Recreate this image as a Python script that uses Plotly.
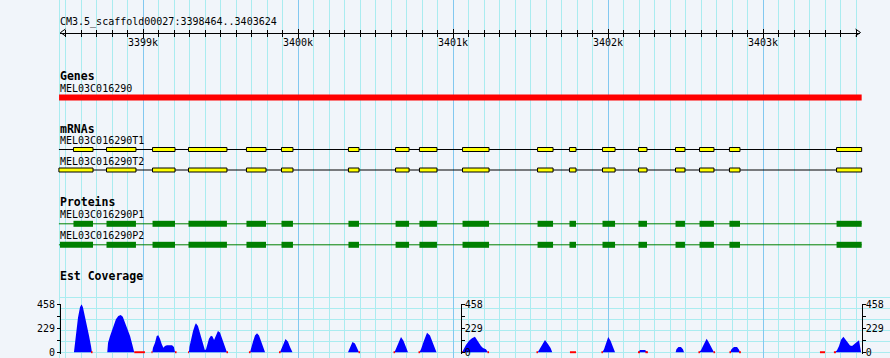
import plotly.graph_objects as go

# ---------------- data ----------------
VIEW_START, VIEW_END = 3398464, 3403624
REGION_LABEL = "CM3.5_scaffold00027:3398464..3403624"

RULER_MAJOR = [3399000, 3400000, 3401000, 3402000, 3403000]
RULER_MAJOR_TEXT = ["3399k", "3400k", "3401k", "3402k", "3403k"]
RULER_MINOR = list(range(3398500, 3403601, 100))

GENE_NAME = "MEL03C016290"
GENE_SPAN = (3398458, 3403636)

TRANSCRIPT_NAMES = ["MEL03C016290T1", "MEL03C016290T2"]
PROTEIN_NAMES = ["MEL03C016290P1", "MEL03C016290P2"]

EXON_STARTS = [3398551, 3398764, 3399061, 3399293, 3399667, 3399893, 3400325, 3400629, 3400783,
               3401061, 3401545, 3401751, 3401964, 3402196, 3402435, 3402590, 3402783, 3403474]
EXON_ENDS = [3398677, 3398954, 3399206, 3399541, 3399793, 3399967, 3400393, 3400716, 3400896,
             3401232, 3401645, 3401793, 3402045, 3402251, 3402496, 3402683, 3402851, 3403636]
T2_FIRST_EXON_START = 3398457
P2_FIRST_CDS_START = 3398464

COV_POS = [
    3398554, 3398558, 3398567, 3398580, 3398593, 3398603, 3398612, 3398625, 3398638, 3398651, 3398664, 3398670,
    3398769, 3398774, 3398787, 3398801, 3398814, 3398825, 3398840, 3398856, 3398869, 3398883, 3398898, 3398916, 3398930, 3398943,
    3399059, 3399064, 3399077, 3399088, 3399098, 3399109, 3399120, 3399131, 3399141, 3399154, 3399187, 3399199, 3399206,
    3399296, 3399299, 3399309, 3399322, 3399335, 3399341, 3399354, 3399367, 3399380, 3399393, 3399399, 3399406, 3399416,
    3399425, 3399438, 3399448, 3399458, 3399470, 3399483, 3399496, 3399509, 3399522, 3399535, 3399541,
    3399690, 3399696, 3399709, 3399722, 3399735, 3399748, 3399761, 3399774, 3399787,
    3399883, 3399890, 3399903, 3399919, 3399935, 3399948, 3399964,
    3400322, 3400335, 3400351, 3400367, 3400380, 3400393,
    3400622, 3400632, 3400651, 3400664, 3400680, 3400696, 3400709,
    3400783, 3400793, 3400812, 3400832, 3400851, 3400870, 3400893,
    3401058, 3401067, 3401083, 3401103, 3401122, 3401141, 3401154, 3401167, 3401180, 3401193, 3401212, 3401225,
    3401546, 3401554, 3401574, 3401593, 3401612, 3401629, 3401640,
    3401963, 3401974, 3401990, 3402001, 3402016, 3402032, 3402045,
    3402195, 3402206, 3402238, 3402256,
    3402436, 3402441, 3402454, 3402470, 3402483, 3402490,
    3402587, 3402599, 3402619, 3402636, 3402651, 3402670, 3402683,
    3402787, 3402796, 3402812, 3402832, 3402845, 3402851,
    3403464, 3403477, 3403490, 3403503, 3403518, 3403535, 3403548, 3403561, 3403574, 3403590, 3403606, 3403619, 3403632,
]
COV_VAL = [
    0, 60, 180, 330, 430, 458, 430, 350, 245, 160, 60, 0,
    0, 92, 155, 219, 267, 315, 346, 356, 340, 282, 235, 155, 76, 0,
    0, 44, 92, 155, 162, 130, 80, 44, 60, 67, 67, 50, 0,
    0, 50, 120, 200, 260, 277, 250, 190, 120, 60, 20, 30, 80,
    130, 158, 150, 117, 160, 203, 190, 140, 80, 30, 0,
    0, 40, 100, 160, 181, 160, 110, 60, 0,
    0, 20, 70, 127, 100, 50, 0,
    0, 50, 98, 85, 45, 0,
    0, 30, 100, 146, 110, 50, 0,
    0, 30, 110, 187, 160, 90, 0,
    0, 30, 70, 110, 135, 149, 120, 80, 60, 40, 30, 0,
    0, 20, 70, 117, 80, 40, 0,
    0, 30, 90, 146, 110, 50, 0,
    0, 22, 22, 0,
    0, 30, 50, 50, 30, 0,
    0, 20, 80, 130, 90, 30, 0,
    0, 30, 50, 50, 25, 0,
    0, 20, 60, 120, 149, 120, 90, 65, 60, 80, 105, 114, 0,
]
COV_MAX = 458
COV_TICKS = [0, 229, 458]
COV_MINOR_TICKS = [114.5, 343.5]

LOW_COV_STARTS = [3398664, 3398943, 3399054, 3399206, 3399290, 3399538, 3399683, 3399877, 3400390, 3400616,
                  3400777, 3401051, 3401222, 3401538, 3401754, 3401957, 3402193, 3402241, 3402583, 3402680,
                  3402783, 3402845, 3403367, 3403457]
LOW_COV_ENDS = [3398674, 3399012, 3399061, 3399216, 3399296, 3399548, 3399693, 3399887, 3400400, 3400626,
                3400787, 3401064, 3401232, 3401548, 3401793, 3401967, 3402206, 3402257, 3402593, 3402690,
                3402793, 3402857, 3403400, 3403470]

# ---------------- styles / layout ----------------
W, H = 890, 358
PX_PER_BP = 0.155
VIEW_PX0 = 60
BG = "rgb(241,245,250)"
GRID_MINOR = "rgb(170,236,240)"
GRID_MAJOR = "rgb(130,200,240)"
MONO = "DejaVu Sans Mono"
CLEAR = "rgba(0,0,0,0)"

x_lo = VIEW_START - VIEW_PX0 / PX_PER_BP
x_hi = VIEW_START + (W - VIEW_PX0) / PX_PER_BP

fig = go.Figure()

shapes = []
annotations = []


def label(text, y, bold=False, size=10):
    annotations.append(dict(
        x=VIEW_PX0 / W, xref="paper", y=y, yref="y", xanchor="left", yanchor="middle",
        text=("<b>%s</b>" % text) if bold else text, showarrow=False,
        font=dict(family=MONO, size=size, color="black"), borderpad=0, xshift=-1))


# left-edge grid line
shapes.append(dict(type="line", xref="paper", yref="paper", x0=59.5 / W, x1=59.5 / W, y0=0, y1=1,
                   line=dict(color=GRID_MINOR, width=1), layer="below"))
# coverage horizontal grid
for yy in [297.5, 308.5, 319.5, 330.5, 341.5, 352.5]:
    shapes.append(dict(type="line", xref="paper", yref="y", x0=59.5 / W, x1=1, y0=yy, y1=yy,
                       line=dict(color=GRID_MINOR, width=1), layer="below"))

# ruler arrows
ry = 32.5
shapes.append(dict(type="path", xref="paper", yref="y",
                   path="M %f,%f L %f,%f L %f,%f" % (65.5 / W, 29, 60.5 / W, ry, 65.5 / W, 36),
                   line=dict(color="black", width=1)))
shapes.append(dict(type="path", xref="paper", yref="y",
                   path="M %f,%f L %f,%f L %f,%f" % (855.5 / W, 29, 860.5 / W, ry, 855.5 / W, 36),
                   line=dict(color="black", width=1)))

label(REGION_LABEL, 21.7)

# Genes track
label("Genes", 76.3, bold=True, size=11.5)
label(GENE_NAME, 88)
shapes.append(dict(type="rect", xref="x", yref="y", x0=GENE_SPAN[0], x1=GENE_SPAN[1], y0=94.5, y1=100.5,
                   fillcolor="red", line=dict(width=0)))

# mRNAs
label("mRNAs", 128.7, bold=True, size=11.5)
for i, (name, yc, ly) in enumerate(zip(TRANSCRIPT_NAMES, [149.5, 170.0], [140.5, 161.2])):
    label(name, ly)
    shapes.append(dict(type="line", xref="x", yref="y", x0=T2_FIRST_EXON_START, x1=EXON_ENDS[-1],
                       y0=yc, y1=yc, line=dict(color="black", width=1)))
    for j, (s, e) in enumerate(zip(EXON_STARTS, EXON_ENDS)):
        if i == 1 and j == 0:
            s = T2_FIRST_EXON_START
        shapes.append(dict(type="rect", xref="x", yref="y", x0=s, x1=e, y0=yc - 2, y1=yc + 2,
                           fillcolor="yellow", line=dict(color="black", width=1)))

# Proteins
label("Proteins", 201.7, bold=True, size=11.5)
for i, (name, yc, ly) in enumerate(zip(PROTEIN_NAMES, [223.8, 244.8], [214.5, 235.5])):
    label(name, ly)
    shapes.append(dict(type="line", xref="x", yref="y", x0=T2_FIRST_EXON_START, x1=EXON_ENDS[-1],
                       y0=yc, y1=yc, line=dict(color="green", width=1)))
    for j, (s, e) in enumerate(zip(EXON_STARTS, EXON_ENDS)):
        if i == 1 and j == 0:
            s = P2_FIRST_CDS_START
        shapes.append(dict(type="rect", xref="x", yref="y", x0=s, x1=e, y0=yc - 3, y1=yc + 3,
                           fillcolor="green", line=dict(width=0)))

# Est coverage
label("Est Coverage", 276.2, bold=True, size=11.5)

fig.add_trace(go.Scatter(x=COV_POS, y=COV_VAL, xaxis="x", yaxis="y2", mode="lines",
                         line=dict(width=0, color="blue"), fill="tozeroy", fillcolor="blue",
                         hoverinfo="skip", showlegend=False))
lx, ly_ = [], []
for s, e in zip(LOW_COV_STARTS, LOW_COV_ENDS):
    lx += [s, e, None]
    ly_ += [0, 0, None]
fig.add_trace(go.Scatter(x=lx, y=ly_, xaxis="x", yaxis="y2", mode="lines",
                         line=dict(width=2, color="red"),
                         hoverinfo="skip", showlegend=False))

# dummy traces to register axes
for xa, ya in [("x", "y"), ("x2", "y"), ("x3", "y"), ("x", "y3"), ("x", "y4")]:
    fig.add_trace(go.Scatter(x=[VIEW_START], y=[0], xaxis=xa, yaxis=ya, mode="markers",
                             marker=dict(opacity=0), hoverinfo="skip", showlegend=False))

tickfont = dict(family=MONO, size=10, color="black")
ruler_pos = 1 - ry / H
ruler_dom = [VIEW_PX0 / W, (VIEW_PX0 + (VIEW_END - VIEW_START) * PX_PER_BP) / W]

# coverage panel: 0 at y=352.3 px, 458 at y=304.3 px; 1.5 px of headroom below the baseline
cov_px_per_unit = 48.0 / COV_MAX
cov_lo = -1.5 / cov_px_per_unit
cov_dom = [1 - 353.8 / H, 1 - 304.3 / H]


def cov_axis(pos, side, overlay=None, standoff=0):
    d = dict(domain=cov_dom, range=[cov_lo, COV_MAX], anchor="free", position=pos, side=side,
             showline=True, linecolor="black", linewidth=1, ticks="outside", ticklen=3,
             tickcolor="black", tickwidth=1, tickmode="array", tickvals=COV_TICKS,
             ticktext=[str(v) for v in COV_TICKS], tickfont=tickfont, showgrid=False, zeroline=False,
             minor=dict(tickmode="array", tickvals=COV_MINOR_TICKS, ticks="outside", ticklen=3,
                        tickcolor="black", showgrid=False),
             ticklabelstandoff=standoff, automargin=False)
    if overlay:
        d["overlaying"] = overlay
    return d


fig.update_layout(
    width=W, height=H, margin=dict(l=0, r=0, t=0, b=0, pad=0, autoexpand=False),
    paper_bgcolor=BG, plot_bgcolor=CLEAR, showlegend=False,
    xaxis=dict(domain=[0, 1], range=[x_lo, x_hi], anchor="y", showticklabels=False, ticks="",
               showline=False, zeroline=False, showgrid=True, tickmode="array", tickvals=RULER_MAJOR,
               gridcolor=GRID_MAJOR, gridwidth=1, automargin=False,
               minor=dict(tickmode="array", tickvals=RULER_MINOR, showgrid=True, gridcolor=GRID_MINOR,
                          gridwidth=1, ticks="")),
    yaxis=dict(domain=[0, 1], range=[H, 0], visible=False, automargin=False),
    xaxis2=dict(domain=ruler_dom, range=[VIEW_START, VIEW_END], anchor="free", position=ruler_pos,
                side="bottom", showline=True, linecolor="black", linewidth=1, showgrid=False,
                zeroline=False, ticks="outside", ticklen=4, tickcolor="black", tickwidth=1,
                tickmode="array", tickvals=RULER_MAJOR, ticktext=RULER_MAJOR_TEXT, tickfont=tickfont,
                minor=dict(tickmode="array", tickvals=RULER_MINOR, ticks="outside", ticklen=3,
                           tickcolor="black", showgrid=False),
                ticklabelstandoff=-4, automargin=False),
    xaxis3=dict(domain=ruler_dom, range=[VIEW_START, VIEW_END], anchor="free", position=ruler_pos,
                overlaying="x2", side="bottom", showline=False, showgrid=False, zeroline=False,
                ticks="inside", ticklen=4, tickcolor="black", tickwidth=1, showticklabels=False,
                tickmode="array", tickvals=RULER_MAJOR, automargin=False,
                minor=dict(tickmode="array", tickvals=RULER_MINOR, ticks="inside", ticklen=3,
                           tickcolor="black", showgrid=False)),
    yaxis2=cov_axis(VIEW_PX0 / W, "left"),
    yaxis3=cov_axis(460.7 / W, "right", "y2", standoff=-2),
    yaxis4=cov_axis(861.7 / W, "right", "y2", standoff=-2),
    shapes=shapes, annotations=annotations,
)

fig.write_html("out.html")
